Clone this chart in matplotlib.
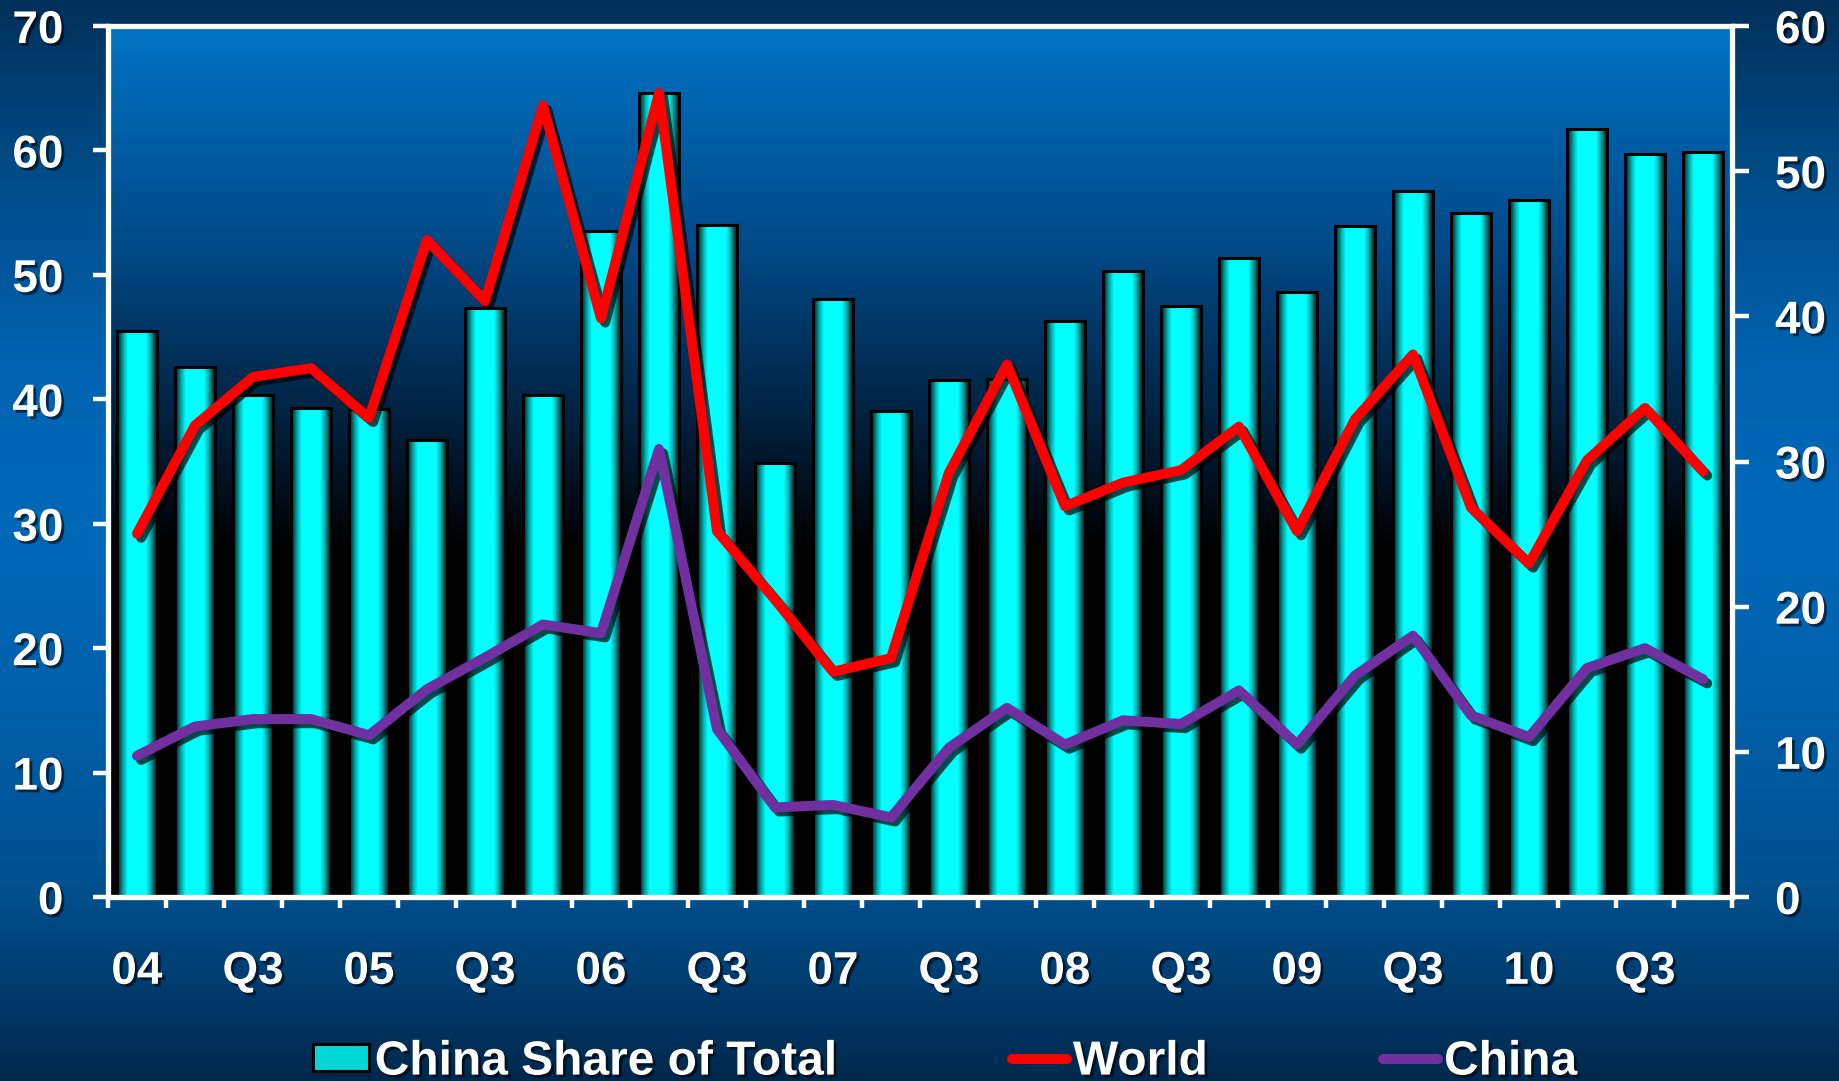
import numpy as np
import matplotlib
matplotlib.use("Agg")
import matplotlib.pyplot as plt
import matplotlib.patheffects as pe
from matplotlib.colors import LinearSegmentedColormap
from matplotlib.patches import Patch
from matplotlib.lines import Line2D

# quarterly data, 2004 Q1 .. 2010 Q4
tick_text = ["04", "Q3", "05", "Q3", "06", "Q3", "07", "Q3", "08", "Q3", "09", "Q3", "10", "Q3"]
share = [39.0, 36.5, 34.6, 33.7, 33.6, 31.5, 40.6, 34.6, 45.9, 55.4,
         46.3, 29.9, 41.2, 33.5, 35.6, 35.7, 39.7, 43.1, 40.7, 44.0,
         41.7, 46.2, 48.6, 47.1, 48.0, 52.9, 51.2, 51.3]
world = [29.2, 37.9, 41.8, 42.5, 38.5, 52.8, 47.9, 63.6, 46.5, 64.6,
         29.4, 23.9, 18.1, 19.2, 34.1, 42.8, 31.4, 33.3, 34.3, 37.8,
         29.4, 38.4, 43.6, 31.3, 26.8, 35.1, 39.3, 34.2]
china = [11.35, 13.7, 14.3, 14.3, 13.0, 16.7, 19.25, 21.9, 21.2, 36.0,
         13.5, 7.2, 7.4, 6.4, 12.0, 15.2, 12.25, 14.2, 13.9, 16.6,
         12.25, 17.8, 21.0, 14.6, 12.85, 18.4, 20.0, 17.5]

plt.rcParams['font.family'] = ['Liberation Sans', 'DejaVu Sans']
plt.rcParams['font.weight'] = 'bold'

W, H = 1839, 1081
fig = plt.figure(figsize=(W / 100, H / 100), dpi=100)

# figure background gradient
bg = fig.add_axes([0, 0, 1, 1], zorder=-10)
fig_cmap = LinearSegmentedColormap.from_list("figbg", [
    (0.0, "#00284c"), (0.08, "#003a6b"), (0.17, "#004f8c"), (0.35, "#0060aa"),
    (0.5, "#0068b8"), (0.65, "#0064b2"), (0.85, "#004a85"), (1.0, "#00305a")])
bg.imshow(np.linspace(0, 1, 512)[:, None], cmap=fig_cmap, origin="lower",
          aspect="auto", extent=[0, 1, 0, 1])
bg.axis("off")

rect = [108 / W, 1 - 897 / H, (1732 - 108) / W, (897 - 26) / H]

# plot area gradient
pbg = fig.add_axes(rect, zorder=-5)
plot_cmap = LinearSegmentedColormap.from_list("plotbg", [
    (0.0, "#000000"), (0.40, "#000000"), (0.55, "#00213f"),
    (0.75, "#004a88"), (1.0, "#0073c4")])
pbg.imshow(np.linspace(0, 1, 512)[:, None], cmap=plot_cmap, origin="lower",
           aspect="auto", extent=[0, 1, 0, 1])
pbg.axis("off")

ax = fig.add_axes(rect)
axr = ax.twinx()
ax.set_zorder(2)
axr.set_zorder(1)
ax.patch.set_visible(False)
axr.patch.set_visible(False)

x = np.arange(len(share))

# bars with cylinder shading (right axis)
bars = axr.bar(x, share, width=0.68, facecolor="none", edgecolor="black",
               linewidth=2.2, zorder=3)
t = np.linspace(0, 1, 200)
prof = np.clip(1.45 * np.sin(np.pi * t) ** 1.3, 0, 1)
bar_cmap = LinearSegmentedColormap.from_list("cyl", ["#002424", "#00a0a0", "#00ffff"])
for b in bars:
    im = axr.imshow(prof[None, :], cmap=bar_cmap, vmin=0, vmax=1, aspect="auto",
                    extent=[b.get_x(), b.get_x() + b.get_width(), 0, b.get_height()],
                    zorder=2, interpolation="bilinear")
    im.set_clip_path(b)

shadow = [pe.SimpleLineShadow(offset=(3, -3), shadow_color="black", alpha=0.7), pe.Normal()]
ax.plot(x, world, color="#ff0000", lw=7.2, solid_joinstyle="round",
        solid_capstyle="round", path_effects=shadow)
ax.plot(x, china, color="#7030a0", lw=7.2, solid_joinstyle="round",
        solid_capstyle="round", path_effects=shadow)

ax.set_xlim(-0.5, len(share) - 0.5)
axr.set_xlim(-0.5, len(share) - 0.5)
ax.set_ylim(0, 70)
axr.set_ylim(0, 60)

ax.set_xticks(np.arange(-0.5, len(share), 1))
ax.set_xticklabels([])
ax.set_xticks(np.arange(0, len(share) - 1, 2), minor=True)
ax.set_xticklabels(tick_text, minor=True)
ax.tick_params(axis="x", which="major", length=8, width=3.2, color="white", direction="out")
ax.tick_params(axis="x", which="minor", length=0, pad=38, labelsize=33, labelcolor="white")

ax.set_yticks(range(0, 71, 10))
ax.tick_params(axis="y", length=11, width=3.2, color="white", pad=21,
               labelsize=33, labelcolor="white")
axr.set_yticks(range(0, 61, 10))
axr.tick_params(axis="y", length=12, width=3.2, color="white", pad=19,
                labelsize=33, labelcolor="white")

for s in ax.spines.values():
    s.set_color("white")
    s.set_linewidth(3.8)
for s in axr.spines.values():
    s.set_visible(False)

text_fx = [pe.SimplePatchShadow(offset=(2, -2), shadow_rgbFace="black", alpha=0.6), pe.Normal()]
for lab in ax.get_yticklabels() + ax.get_xticklabels(minor=True) + axr.get_yticklabels():
    lab.set_fontweight("bold")
    lab.set_path_effects(text_fx)

handles = [Patch(facecolor="#00d8d8", edgecolor="black", linewidth=2.2),
           Line2D([], [], color="#ff0000", lw=7.2, solid_capstyle="round"),
           Line2D([], [], color="#7030a0", lw=7.2, solid_capstyle="round")]
labels = ["China Share of Total", "World", "China"]
leg = fig.legend(handles, labels, loc="center", bbox_to_anchor=(0.514, 0.0175), ncol=3,
                 frameon=False, prop={"family": "Liberation Sans", "weight": "bold", "size": 34.5},
                 labelcolor="white", handlelength=1.15, handleheight=0.5,
                 handletextpad=0.13, columnspacing=3.65)
for txt in leg.get_texts():
    txt.set_path_effects(text_fx)

fig.savefig("out.png", dpi=100)
